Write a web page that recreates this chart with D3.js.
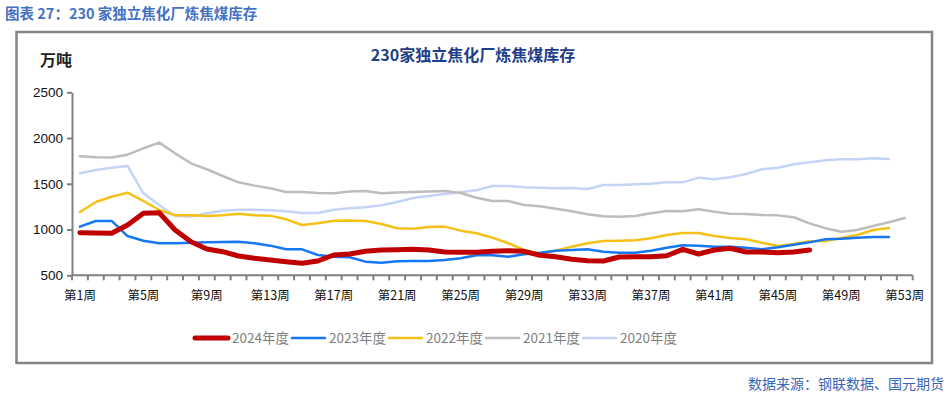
<!DOCTYPE html>
<html>
<head>
<meta charset="utf-8">
<script src="https://cdn.jsdelivr.net/npm/d3@7"></script>
<style>
  body { margin: 0; background: #fff; }
  svg { display: block; font-family: "Liberation Sans", Arial, "Noto Sans CJK SC", sans-serif; }
</style>
</head>
<body>
<div id="chart"></div>
<script>
// weeks 1..53
const weeks = d3.range(1, 54).map(w => "第" + w + "周");
const seriesNames = ["2024年度", "2023年度", "2022年度", "2021年度", "2020年度"];

const y2024 = [966, 963, 959, 1050, 1178, 1184, 995, 867, 787, 758, 711, 686, 667, 649, 631, 656, 722, 732,
  762, 777, 780, 784, 777, 755, 751, 751, 762, 769, 762, 719, 703, 675, 660, 656, 700, 702, 703, 714, 784, 733,
  777, 795, 755, 755, 747, 755, 777];
const y2023 = [1032, 1094, 1094, 929, 878, 850, 849, 856, 860, 864, 867, 850, 824, 784, 784, 722, 703, 697,
  649, 638, 653, 657, 657, 667, 686, 719, 719, 703, 730, 747, 769, 777, 784, 758, 747, 747, 769, 802, 828, 824,
  813, 813, 802, 784, 806, 835, 860, 893, 900, 911, 919, 919];
const y2022 = [1192, 1301, 1359, 1403, 1312, 1214, 1156, 1156, 1148, 1156, 1173, 1156, 1152, 1112, 1050, 1068,
  1097, 1098, 1094, 1061, 1014, 1010, 1028, 1032, 988, 959, 911, 850, 777, 736, 769, 813, 850, 875, 878, 884,
  904, 940, 962, 962, 929, 908, 893, 856, 820, 842, 871, 875, 908, 940, 995, 1017];
const y2021 = [1800, 1790, 1787, 1818, 1888, 1950, 1833, 1724, 1659, 1585, 1516, 1480, 1451, 1410, 1410, 1400,
  1396, 1415, 1421, 1396, 1405, 1410, 1416, 1421, 1400, 1348, 1312, 1312, 1268, 1254, 1228, 1199, 1167, 1145,
  1141, 1147, 1178, 1203, 1200, 1221, 1195, 1173, 1170, 1159, 1155, 1134, 1068, 1014, 977, 995, 1039, 1079, 1126];
const y2020 = [1615, 1651, 1676, 1695, 1396, 1268, 1148, 1141, 1178, 1206, 1217, 1217, 1210, 1200, 1181, 1181,
  1217, 1234, 1243, 1265, 1301, 1345, 1367, 1389, 1407, 1429, 1476, 1476, 1462, 1458, 1451, 1455, 1443, 1487,
  1487, 1495, 1501, 1516, 1516, 1567, 1549, 1571, 1607, 1659, 1676, 1713, 1735, 1757, 1768, 1768, 1779, 1772];

const yTicks = [500, 1000, 1500, 2000, 2500];
const colors = ["#c00000", "#1776f2", "#f5c118", "#bdbdbd", "#c5d4f6"];
const widths = [5, 2.5, 2.5, 2.5, 2.5];

const width = 950, height = 396;
const margin = { left: 72, right: 37.3, top: 92.3, bottom: 120.7 };
const plotW = width - margin.left - margin.right;
const plotH = height - margin.top - margin.bottom;

const svg = d3.select("#chart").append("svg")
  .attr("width", width)
  .attr("height", height);

// header
svg.append("text")
  .attr("x", 5).attr("y", 19)
  .attr("fill", "#4472c4")
  .attr("font-size", 14.5)
  .attr("font-weight", "bold")
  .attr("font-family", "'Noto Sans CJK SC', sans-serif")
  .text("图表 27：230 家独立焦化厂炼焦煤库存");

// frame
svg.append("rect")
  .attr("x", 16.5).attr("y", 32)
  .attr("width", 915.5).attr("height", 331)
  .attr("fill", "none")
  .attr("stroke", "#858585")
  .attr("stroke-width", 2.5);

svg.append("text")
  .attr("x", 473).attr("y", 61)
  .attr("text-anchor", "middle")
  .attr("fill", "#1f3f8a")
  .attr("font-size", 16)
  .attr("font-weight", "bold")
  .attr("font-family", "'Noto Sans CJK SC', sans-serif")
  .text("230家独立焦化厂炼焦煤库存");

svg.append("text")
  .attr("x", 40).attr("y", 66)
  .attr("fill", "#222")
  .attr("font-size", 16)
  .attr("font-weight", "bold")
  .attr("font-family", "'Noto Sans CJK SC', sans-serif")
  .text("万吨");

const g = svg.append("g")
  .attr("transform", "translate(" + margin.left + "," + margin.top + ")");

const x = d3.scaleBand()
  .domain(weeks)
  .range([0, plotW]);

const y = d3.scaleLinear()
  .domain([500, 2500])
  .range([plotH, 0]);

// y axis
const yAxis = g.append("g")
  .call(d3.axisLeft(y).tickValues(yTicks).tickFormat(d3.format("d"))
    .tickSize(5).tickSizeOuter(0).tickPadding(4));
yAxis.select(".domain").attr("stroke", "#808080").attr("stroke-width", 2);
yAxis.selectAll(".tick line").attr("stroke", "#808080").attr("stroke-width", 2);
yAxis.selectAll("text").attr("fill", "#111").attr("font-size", 13.5);

// x axis: ticks at band boundaries
const xAxis = g.append("g")
  .attr("transform", "translate(0," + plotH + ")");
xAxis.append("line")
  .attr("x1", 0).attr("x2", plotW)
  .attr("stroke", "#808080").attr("stroke-width", 2);
xAxis.selectAll(".bt")
  .data(d3.range(weeks.length + 1))
  .enter().append("line")
  .attr("x1", i => i * x.step()).attr("x2", i => i * x.step())
  .attr("y1", 0).attr("y2", 5)
  .attr("stroke", "#808080").attr("stroke-width", 2);
xAxis.selectAll(".lbl")
  .data(weeks.filter((d, i) => i % 4 === 0))
  .enter().append("text")
  .attr("x", d => x(d) + x.bandwidth() / 2)
  .attr("y", 25)
  .attr("text-anchor", "middle")
  .attr("fill", "#111")
  .attr("font-size", 12.5)
  .attr("font-family", "'Noto Sans CJK SC', sans-serif")
  .text(d => d);

// lines, drawn oldest first so 2024 is on top
const allSeries = [y2024, y2023, y2022, y2021, y2020];
const line = d3.line()
  .x((d, i) => x(weeks[i]) + x.bandwidth() / 2)
  .y(d => y(d));

for (let s = allSeries.length - 1; s >= 0; s--) {
  g.append("path")
    .datum(allSeries[s])
    .attr("fill", "none")
    .attr("stroke", colors[s])
    .attr("stroke-width", widths[s])
    .attr("stroke-linejoin", "round")
    .attr("stroke-linecap", "round")
    .attr("d", line);
}

// legend
const legendX = [195, 292, 389, 486, 583];
const legend = svg.append("g").attr("transform", "translate(0,338)");
seriesNames.forEach((name, i) => {
  legend.append("line")
    .attr("x1", legendX[i]).attr("x2", legendX[i] + 33)
    .attr("stroke", colors[i])
    .attr("stroke-width", widths[i])
    .attr("stroke-linecap", "round");
  legend.append("text")
    .attr("x", legendX[i] + 37).attr("y", 5)
    .attr("fill", "#7f7f7f")
    .attr("font-size", 13.5)
    .attr("font-family", "'Noto Sans CJK SC', sans-serif")
    .text(name);
});

svg.append("text")
  .attr("x", 944).attr("y", 389)
  .attr("text-anchor", "end")
  .attr("fill", "#3a66b8")
  .attr("font-size", 14)
  .attr("font-family", "'Noto Sans CJK SC', sans-serif")
  .text("数据来源：钢联数据、国元期货");
</script>
</body>
</html>
